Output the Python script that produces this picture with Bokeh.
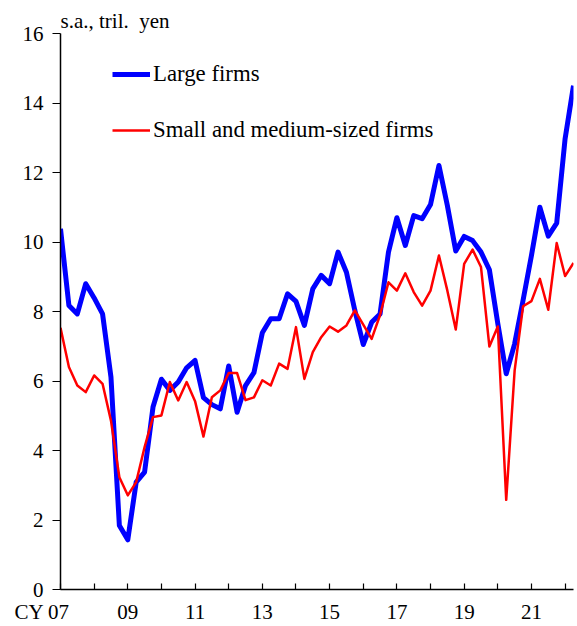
from bokeh.plotting import figure
from bokeh.models import Range1d, FixedTicker, Legend, LegendItem
from bokeh.embed import file_html
from bokeh.resources import INLINE

# Quarterly data, 2007Q1 - 2022Q2 (s.a., tril. yen)
quarters = [f"{y}Q{q}" for y in range(2007, 2023) for q in range(1, 5)][:62]

large_firms = [10.38, 8.17, 7.93, 8.80, 8.39, 7.93, 6.11, 1.84, 1.43, 3.09, 3.38, 5.25,
               6.05, 5.73, 5.97, 6.38, 6.59, 5.52, 5.32, 5.20, 6.43, 5.10, 5.87, 6.24,
               7.39, 7.79, 7.79, 8.51, 8.29, 7.60, 8.65, 9.04, 8.80, 9.71, 9.13, 8.03,
               7.05, 7.69, 7.93, 9.71, 10.70, 9.90, 10.76, 10.67, 11.08, 12.20, 11.05, 9.74,
               10.16, 10.04, 9.71, 9.20, 7.65, 6.21, 7.07, 8.32, 9.61, 11.00, 10.17, 10.54,
               12.97, 14.50]

small_medium_firms = [7.53, 6.40, 5.87, 5.68, 6.16, 5.92, 4.86, 3.23, 2.71, 3.09, 4.10, 4.96,
                      5.01, 5.97, 5.44, 5.97, 5.42, 4.40, 5.53, 5.73, 6.23, 6.23, 5.45, 5.53,
                      6.02, 5.87, 6.50, 6.35, 7.55, 6.06, 6.83, 7.26, 7.57, 7.42, 7.60, 8.03,
                      7.62, 7.21, 7.90, 8.84, 8.60, 9.10, 8.56, 8.17, 8.60, 9.61, 8.60, 7.48,
                      9.37, 9.78, 9.28, 6.99, 7.57, 2.58, 6.30, 8.15, 8.30, 8.94, 8.05, 9.97,
                      9.02, 9.40]

tick_years = list(range(2007, 2023))
tick_labels = ["CY 07", "", "09", "", "11", "", "13", "", "15", "", "17", "", "19", "", "21", ""]
y_ticks = [0, 2, 4, 6, 8, 10, 12, 14, 16]

x = [int(q[:4]) + (int(q[-1]) - 1) / 4 for q in quarters]

FONT = "Liberation Serif"

p = figure(width=577, height=626,
           x_range=Range1d(2007, 2022.25), y_range=Range1d(0, 16),
           output_backend="svg", toolbar_location=None,
           min_border_left=60, min_border_right=4, min_border_top=33, min_border_bottom=37)
p.outline_line_color = None
p.xgrid.grid_line_color = None
p.ygrid.grid_line_color = None
p.background_fill_color = "white"
p.border_fill_color = "white"

# unit label as title
p.title.text = "s.a., tril.\u00a0 yen"
p.title.align = "left"
p.title.text_font = FONT
p.title.text_font_size = "21px"
p.title.text_font_style = "normal"
p.title.text_color = "black"
p.title.standoff = 1
p.title.offset = 0

# x axis
xa = p.xaxis[0]
xa.ticker = FixedTicker(ticks=tick_years)
overrides = {}
for t, lab in zip(tick_years, tick_labels):
    if lab == "CY 07":
        lab = "CY 07" + "\u00a0" * 7
    overrides[t] = lab
xa.major_label_overrides = overrides
xa.major_tick_in = 6
xa.major_tick_out = 0
xa.minor_tick_line_color = None
xa.axis_line_width = 1.5
xa.axis_line_color = "black"
xa.major_tick_line_color = "black"
xa.major_tick_line_width = 1.2
xa.major_label_text_font = FONT
xa.major_label_text_font_size = "21px"
xa.major_label_text_color = "black"
xa.major_label_standoff = 10

# y axis
ya = p.yaxis[0]
ya.ticker = FixedTicker(ticks=y_ticks)
ya.major_tick_in = 0
ya.major_tick_out = 8
ya.minor_tick_line_color = None
ya.axis_line_width = 1.5
ya.axis_line_color = "black"
ya.major_tick_line_color = "black"
ya.major_tick_line_width = 1.2
ya.major_label_text_font = FONT
ya.major_label_text_font_size = "21px"
ya.major_label_text_color = "black"
ya.major_label_standoff = 9

r_large = p.line(x, large_firms, line_color="#0000FF", line_width=5, line_join="round")
r_small = p.line(x, small_medium_firms, line_color="#FF0000", line_width=2.5, line_join="round")

legend = Legend(items=[LegendItem(label="Large firms", renderers=[r_large]),
                       LegendItem(label="Small and medium-sized firms", renderers=[r_small])],
                location=(52, 446), glyph_width=38, glyph_height=22, label_height=22,
                label_standoff=3, spacing=30, padding=0, margin=0,
                border_line_color=None, background_fill_alpha=0,
                label_text_font=FONT, label_text_font_size="22.8px", label_text_color="black")
p.add_layout(legend)

open("out.html", "w").write(file_html(p, INLINE))
